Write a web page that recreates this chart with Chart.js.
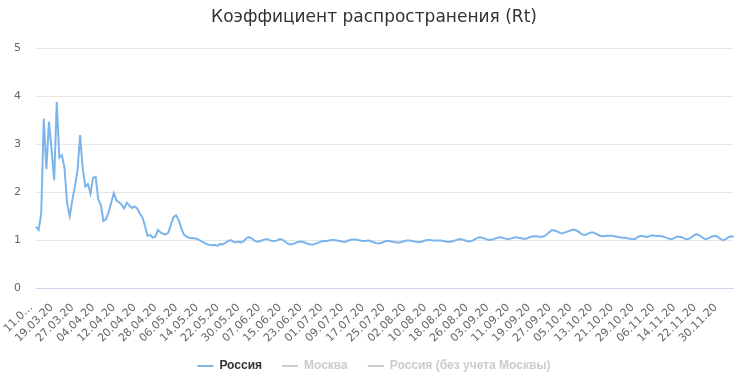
<!DOCTYPE html>
<html>
<head>
<meta charset="utf-8">
<script src="https://cdn.jsdelivr.net/npm/chart.js@4"></script>
<style>
  html, body { margin: 0; padding: 0; background: #fff; }
  #wrap { width: 748px; height: 377px; }
</style>
</head>
<body>
<div id="wrap"><canvas id="chart"></canvas></div>
<script>
const startDate = new Date(2020, 2, 11);

// Rt по России, по дням начиная с 11.03.20
const russia = [
	1.28, 1.21, 1.54, 3.53, 2.48, 3.47, 2.90, 2.25, 3.88, 2.72,
	2.77, 2.50, 1.76, 1.50, 1.83, 2.12, 2.45, 3.19, 2.50, 2.12,
	2.17, 1.97, 2.30, 2.32, 1.85, 1.73, 1.40, 1.44, 1.58, 1.78,
	1.98, 1.83, 1.79, 1.74, 1.66, 1.78, 1.72, 1.67, 1.70, 1.66,
	1.56, 1.48, 1.30, 1.09, 1.11, 1.05, 1.07, 1.21, 1.16, 1.13,
	1.12, 1.15, 1.32, 1.48, 1.52, 1.42, 1.25, 1.12, 1.07, 1.05,
	1.04, 1.04, 1.03, 1.00, 0.97, 0.94, 0.91, 0.90, 0.89, 0.90,
	0.88, 0.92, 0.91, 0.94, 0.98, 1.00, 0.97, 0.95, 0.97, 0.95,
	0.97, 1.03, 1.06, 1.04, 1.00, 0.97, 0.97, 0.99, 1.01, 1.02,
	1.00, 0.98, 0.98, 0.99, 1.02, 1.01, 0.97, 0.93, 0.91, 0.92,
	0.94, 0.96, 0.97, 0.96, 0.94, 0.92, 0.91, 0.91, 0.93, 0.95,
	0.97, 0.98, 0.98, 0.99, 1.00, 1.00, 0.99, 0.98, 0.97, 0.96,
	0.98, 1.00, 1.01, 1.01, 1.00, 0.99, 0.98, 0.98, 0.99, 0.98,
	0.96, 0.94, 0.93, 0.94, 0.96, 0.98, 0.98, 0.97, 0.96, 0.95,
	0.95, 0.96, 0.98, 0.99, 0.99, 0.98, 0.97, 0.96, 0.96, 0.97,
	0.99, 1.00, 1.00, 0.99, 0.99, 0.99, 0.99, 0.98, 0.97, 0.96,
	0.97, 0.98, 1.00, 1.02, 1.01, 1.00, 0.98, 0.97, 0.98, 1.01,
	1.04, 1.06, 1.05, 1.03, 1.01, 1.00, 1.01, 1.03, 1.05, 1.06,
	1.05, 1.03, 1.02, 1.03, 1.05, 1.06, 1.05, 1.04, 1.03, 1.03,
	1.05, 1.07, 1.08, 1.08, 1.07, 1.07, 1.08, 1.12, 1.17, 1.21,
	1.20, 1.18, 1.15, 1.14, 1.16, 1.18, 1.20, 1.22, 1.21, 1.18,
	1.14, 1.11, 1.11, 1.14, 1.16, 1.16, 1.13, 1.10, 1.08, 1.08,
	1.09, 1.09, 1.09, 1.08, 1.07, 1.06, 1.05, 1.05, 1.04, 1.03,
	1.02, 1.02, 1.06, 1.09, 1.08, 1.07, 1.07, 1.09, 1.10, 1.08,
	1.09, 1.08, 1.07, 1.05, 1.03, 1.02, 1.04, 1.07, 1.07, 1.06,
	1.03, 1.02, 1.03, 1.07, 1.11, 1.12, 1.09, 1.05, 1.02, 1.03,
	1.06, 1.08, 1.09, 1.06, 1.02, 1.00, 1.02, 1.06, 1.08, 1.07,
];
// скрытые серии (в легенде выключены)
const moscow = [];
const russiaNoMoscow = [];

const seriesNames = ['Россия', 'Москва', 'Россия (без учета Москвы)'];
const yTicks = [0, 1, 2, 3, 4, 5];

function fmt(d) {
	const dd = String(d.getDate()).padStart(2, '0');
	const mm = String(d.getMonth() + 1).padStart(2, '0');
	return dd + '.' + mm + '.' + String(d.getFullYear()).slice(2);
}

const dates = russia.map((_, i) => {
	const d = new Date(startDate);
	d.setDate(d.getDate() + i);
	return fmt(d);
});

// legend sits close under the rotated date labels
const legendFit = {
	id: 'legendFit',
	beforeInit(chart) {
		const lg = chart.legend;
		const fit = lg.fit;
		lg.fit = function () {
			fit.call(this);
			this.height -= 5;
		};
	},
};

const ctx = document.getElementById('chart');
const font = 'DejaVu Sans';

new Chart(ctx, {
	type: 'line',
	data: {
		labels: dates,
		datasets: [
			{ label: seriesNames[0], data: russia, borderColor: '#7cb5ec', backgroundColor: '#7cb5ec' },
			{ label: seriesNames[1], data: moscow, borderColor: '#434348', hidden: true },
			{ label: seriesNames[2], data: russiaNoMoscow, borderColor: '#90ed7d', hidden: true },
		],
	},
	plugins: [legendFit],
	options: {
		responsive: true,
		maintainAspectRatio: false,
		animation: false,
		elements: {
			line: { borderWidth: 2, tension: 0 },
			point: { radius: 0 },
		},
		layout: { padding: { left: 14, right: 14, top: 4, bottom: 0 } },
		plugins: {
			title: {
				display: true,
				text: 'Коэффициент распространения (Rt)',
				color: '#333333',
				font: { family: font, size: 17, weight: 'normal' },
				padding: { top: 3, bottom: 21 },
			},
			legend: {
				position: 'bottom',
				labels: {
					boxWidth: 16,
					boxHeight: 2,
					padding: 20,
					font: { family: 'Liberation Sans', size: 12, weight: 'bold' },
					generateLabels: (chart) => chart.data.datasets.map((ds, i) => ({
						text: ds.label,
						fillStyle: i === 0 ? '#7cb5ec' : '#cccccc',
						strokeStyle: i === 0 ? '#7cb5ec' : '#cccccc',
						lineWidth: 0,
						fontColor: i === 0 ? '#333333' : '#cccccc',
						hidden: false,
						datasetIndex: i,
					})),
				},
			},
			tooltip: { enabled: false },
		},
		scales: {
			x: {
				grid: { display: false },
				border: { color: '#ccd6eb' },
				afterFit: (axis) => {
					axis.paddingLeft = 0;
					if (axis._margins) axis._margins.left = 0;
					axis.height = 52;
					axis._computeLabelArea = () => undefined;
				},
				ticks: {
					autoSkip: false,
					minRotation: 45,
					maxRotation: 45,
					padding: 5,
					labelOffset: -5,
					color: '#666666',
					font: { family: font, size: 11 },
					callback: (v, i) => {
						if (i % 8 !== 0) return '';
						return i === 0 ? '11.0…' : dates[i];
					},
				},
			},
			y: {
				min: 0,
				max: 5,
				afterBuildTicks: (axis) => { axis.ticks = yTicks.map((v) => ({ value: v })); },
				afterFit: (axis) => { axis.width = 22; },
				border: { display: false },
				grid: {
					drawTicks: false,
					color: (c) => (c.tick.value === 0 ? '#ccd6eb' : '#e6e6e6'),
				},
				ticks: {
					padding: 15,
					color: '#666666',
					font: { family: font, size: 11 },
				},
			},
		},
	},
});
</script>
</body>
</html>
